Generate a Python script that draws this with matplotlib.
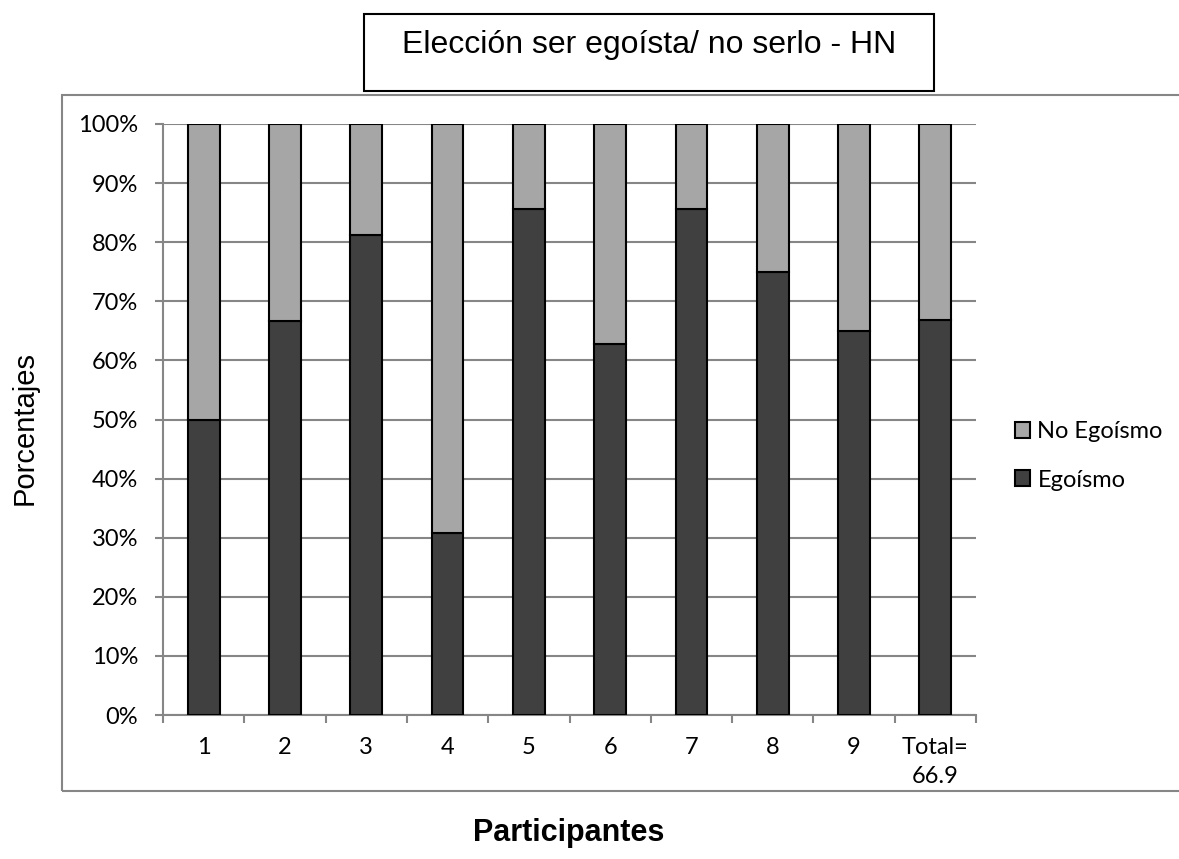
# stacked 100% bars: egoism choice per participant (HN)

import matplotlib.pyplot as plt
from matplotlib.patches import Rectangle
import numpy as np

# values (percent)
participants = ['1', '2', '3', '4', '5', '6', '7', '8', '9', 'Total=\n66.9']
egoismo = [50.0, 66.7, 81.25, 30.8, 85.7, 62.8, 85.7, 75.0, 65.0, 66.9]
no_egoismo = [100 - v for v in egoismo]

W, H = 1179, 859
fig = plt.figure(figsize=(W / 100, H / 100), dpi=100)

# plot area in pixel coords: x 163..976, y 124..715
ax = fig.add_axes([163 / W, 1 - 715 / H, (976 - 163) / W, (715 - 124) / H])

index = np.arange(len(participants))
bar_width = 0.39
dark = '#404040'
light = '#A6A6A6'
grid_col = '#868686'

ax.yaxis.grid(True, color=grid_col, linewidth=1.5)
ax.set_axisbelow(True)

b1 = ax.bar(index, egoismo, bar_width, color=dark, edgecolor='black',
            linewidth=1.5, label='Egoísmo', zorder=3)
b2 = ax.bar(index, no_egoismo, bar_width, bottom=egoismo, color=light,
            edgecolor='black', linewidth=1.5, label='No Egoísmo', zorder=3)

ax.set_xlim(-0.5, len(participants) - 0.5)
ax.set_ylim(0, 100)
ax.set_yticks(np.arange(0, 101, 10))
ax.set_yticklabels([f'{v}%' for v in range(0, 101, 10)])

# category labels on major ticks (hidden), tick marks between categories
ax.set_xticks(index)
ax.set_xticklabels(participants, linespacing=1.45, va='top')
ax.set_xticks(np.arange(-0.5, len(participants), 1), minor=True)
ax.tick_params(axis='x', which='major', length=0, pad=16, labelsize=17)
ax.tick_params(axis='x', which='minor', length=5.8, width=1.5, color=grid_col)
ax.tick_params(axis='y', length=5.8, width=1.5, color=grid_col, pad=12, labelsize=17)
for lab in ax.get_xticklabels() + ax.get_yticklabels():
    lab.set_family('Lato')

for side in ['top', 'right']:
    ax.spines[side].set_visible(False)
for side in ['left', 'bottom']:
    ax.spines[side].set_color(grid_col)
    ax.spines[side].set_linewidth(1.5)

leg = ax.legend([b2, b1], ['No Egoísmo', 'Egoísmo'], loc='center left',
                bbox_to_anchor=(1015 / W, 1 - 456 / H), bbox_transform=fig.transFigure,
                frameon=False, handlelength=0.65, handleheight=0.65,
                handletextpad=0.3, labelspacing=1.15, borderpad=0, borderaxespad=0,
                prop={'family': 'Lato', 'size': 17})

# outer chart frame (runs off the right edge like the original)
fig.patches.append(Rectangle((62 / W, 1 - 791 / H), 1.2, (791 - 95) / H,
                             transform=fig.transFigure, fill=False,
                             edgecolor=grid_col, linewidth=1.5))

# title in its own box
fig.patches.append(Rectangle((364 / W, 1 - 91 / H), (934 - 364) / W, (91 - 14) / H,
                             transform=fig.transFigure, fill=False,
                             edgecolor='black', linewidth=1.5))
fig.text(649 / W, 1 - 45 / H, 'Elección ser egoísta/ no serlo - HN',
         ha='center', va='center', fontsize=23, family='Liberation Sans')

fig.text(25 / W, 1 - 428 / H, 'Porcentajes', rotation=90, ha='center',
         va='center', fontsize=21, family='Liberation Sans')
fig.text(569 / W, 1 - 833 / H, 'Participantes', ha='center', va='center',
         fontsize=22, weight='bold', family='Liberation Sans')

fig.savefig('out.png', dpi=100, facecolor='white')
